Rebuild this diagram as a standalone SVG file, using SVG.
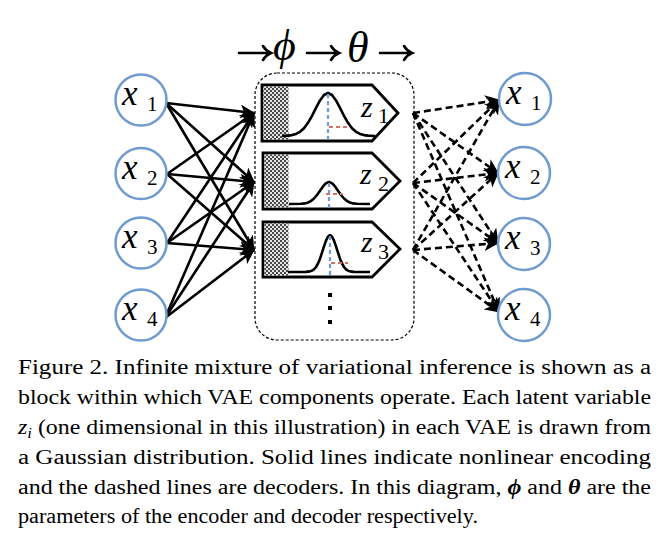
<svg xmlns="http://www.w3.org/2000/svg" width="670" height="552" viewBox="0 0 670 552">
<style>
.circ{fill:#fff;stroke:#6f9bd0;stroke-width:2.5}
.mi{font-family:"Liberation Serif","Tinos","Nimbus Roman","FreeSerif","Noto Serif","DejaVu Serif",serif;font-style:italic;fill:#000}
.sub{font-family:"Liberation Serif","Tinos","Nimbus Roman","FreeSerif","Noto Serif","DejaVu Serif",serif;fill:#000}
.enc{stroke:#000;stroke-width:2.6;fill:none;marker-end:url(#ah)}
.dec{stroke:#000;stroke-width:2.6;fill:none;stroke-dasharray:7,4;marker-end:url(#ah)}
.vae{fill:#fff;stroke:#000;stroke-width:2.8;stroke-linejoin:miter}
.hatch{fill:url(#chk);stroke:none}
.gauss{fill:none;stroke:#000;stroke-width:2.6;stroke-linejoin:round}
.mu{stroke:#6f9bd0;stroke-width:2.2;stroke-dasharray:4,3}
.sd{stroke:#d07565;stroke-width:2.2;stroke-dasharray:4,3}
.cap{font-family:"Liberation Serif","Tinos","Nimbus Roman","FreeSerif","Noto Serif","DejaVu Serif",serif;font-size:20px;fill:#000}
.top{stroke:#000;stroke-width:2.6;fill:none;stroke-linecap:round}
</style>
<defs>
<marker id="ah" markerUnits="userSpaceOnUse" markerWidth="16" markerHeight="14" viewBox="0 0 16 14" refX="14" refY="7" orient="auto">
<path d="M0,0 L15,7 L0,14 L4,7 z" fill="#000"/>
</marker>
<pattern id="chk" patternUnits="userSpaceOnUse" width="4" height="4">
<rect width="4" height="4" fill="#e4e4e4"/>
<rect width="2" height="2" fill="#4a4a4a"/>
<rect x="2" y="2" width="2" height="2" fill="#4a4a4a"/>
</pattern>
</defs>

<g id="params">
<path class="top" d="M239,53 H270 M263,46 Q266,51 271,53 Q266,55 263,60"/>
<text class="mi" x="273" y="60" font-size="44">ϕ</text>
<path class="top" d="M307,53 H338 M331,46 Q334,51 339,53 Q334,55 331,60"/>
<text class="mi" x="347" y="62" font-size="44">θ</text>
<path class="top" d="M380,53 H411 M404,46 Q407,51 412,53 Q407,55 404,60"/>
</g>

<g id="mixture-block">
<rect x="255" y="73" width="159" height="267" rx="22" ry="22" fill="none" stroke="#000" stroke-width="1.2" stroke-dasharray="3,2"/>
</g>

<g id="vae1">
<path class="vae" d="M262,85 H372 L398,113 L372,141 H262 Z"/>
<rect class="hatch" x="263.5" y="86.5" width="25" height="53"/>
<polyline class="gauss" points="282,136 288,135.6 292,135.1 296,133.9 300,131.8 304,128.2 308,122.8 312,115.8 316,107.9 320,100.4 324,95 328,93 332,95 336,100.4 340,107.9 344,115.8 348,122.8 352,128.2 356,131.8 360,133.9 364,135.1 368,135.6 375,136"/>
<line class="mu" x1="328" y1="94" x2="328" y2="141"/>
<line class="sd" x1="329" y1="127" x2="348" y2="127"/>
<text class="mi" x="361" y="117" font-size="30">z</text>
<text class="sub" x="378" y="123" font-size="22">1</text>
</g>

<g id="vae2">
<path class="vae" d="M263,153 H372 L400,181 L372,209 H263 Z"/>
<rect class="hatch" x="264.5" y="154.5" width="24" height="53"/>
<polyline class="gauss" points="289,204 301,203.8 305,203.4 308,202.6 311,201 314,198.5 317,195 320,190.7 323,186.4 326,183.2 329,182 332,183.2 335,186.4 338,190.7 341,195 344,198.5 347,201 350,202.6 353,203.4 357,203.8 370,204"/>
<line class="mu" x1="329" y1="183" x2="329" y2="209"/>
<line class="sd" x1="326" y1="194" x2="343" y2="194"/>
<text class="mi" x="360" y="184" font-size="30">z</text>
<text class="sub" x="378" y="191" font-size="22">2</text>
</g>

<g id="vae3">
<path class="vae" d="M263,222 H372 L400,249 L372,277 H263 Z"/>
<rect class="hatch" x="264.5" y="223.5" width="24" height="52"/>
<polyline class="gauss" points="288,272 306,271.9 310,271.4 312,270.65 314,269.3 316,267 318,263.5 320,258.7 322,252.7 324,246.4 326,240.6 328,236.5 330,235 332,236.5 334,240.6 336,246.4 338,252.7 340,258.7 342,263.5 344,267 346,269.3 348,270.65 350,271.4 354,271.9 370,272"/>
<line class="mu" x1="330" y1="236" x2="330" y2="277"/>
<line class="sd" x1="331" y1="263" x2="348" y2="263"/>
<text class="mi" x="361" y="252" font-size="30">z</text>
<text class="sub" x="378" y="259" font-size="22">3</text>
</g>

<g id="ellipsis">
<rect x="328" y="293" width="4" height="4" fill="#000"/>
<rect x="328" y="306" width="4" height="4" fill="#000"/>
<rect x="328" y="320" width="4" height="4" fill="#000"/>
</g>

<g id="connectors">
<line class="enc" x1="166" y1="103" x2="254" y2="113"/>
<line class="enc" x1="166" y1="103" x2="254" y2="182"/>
<line class="enc" x1="166" y1="103" x2="254" y2="250"/>
<line class="enc" x1="167" y1="174" x2="254" y2="113"/>
<line class="enc" x1="167" y1="174" x2="254" y2="182"/>
<line class="enc" x1="167" y1="174" x2="254" y2="250"/>
<line class="enc" x1="167" y1="243" x2="254" y2="113"/>
<line class="enc" x1="167" y1="243" x2="254" y2="182"/>
<line class="enc" x1="167" y1="243" x2="254" y2="250"/>
<line class="enc" x1="165" y1="318" x2="254" y2="113"/>
<line class="enc" x1="165" y1="318" x2="254" y2="182"/>
<line class="enc" x1="165" y1="318" x2="254" y2="250"/>
<line class="dec" x1="413" y1="113" x2="499" y2="100"/>
<line class="dec" x1="413" y1="113" x2="498" y2="173"/>
<line class="dec" x1="413" y1="113" x2="498" y2="243"/>
<line class="dec" x1="413" y1="113" x2="499" y2="312"/>
<line class="dec" x1="413" y1="183" x2="499" y2="100"/>
<line class="dec" x1="413" y1="183" x2="498" y2="173"/>
<line class="dec" x1="413" y1="183" x2="498" y2="243"/>
<line class="dec" x1="413" y1="183" x2="499" y2="312"/>
<line class="dec" x1="413" y1="250" x2="499" y2="100"/>
<line class="dec" x1="413" y1="250" x2="498" y2="173"/>
<line class="dec" x1="413" y1="250" x2="498" y2="243"/>
<line class="dec" x1="413" y1="250" x2="499" y2="312"/>
</g>

<g id="in-x1"><circle class="circ" cx="141" cy="100" r="25.5"/><text class="mi" x="122" y="105" font-size="35">x</text><text class="sub" x="147" y="111" font-size="21">1</text></g>
<g id="in-x2"><circle class="circ" cx="141" cy="173.5" r="25.5"/><text class="mi" x="122" y="178.5" font-size="35">x</text><text class="sub" x="147" y="184.5" font-size="21">2</text></g>
<g id="in-x3"><circle class="circ" cx="141" cy="243" r="25.5"/><text class="mi" x="122" y="248" font-size="35">x</text><text class="sub" x="147" y="254" font-size="21">3</text></g>
<g id="in-x4"><circle class="circ" cx="141" cy="315" r="25.5"/><text class="mi" x="122" y="320" font-size="35">x</text><text class="sub" x="147" y="326" font-size="21">4</text></g>

<g id="out-x1"><circle class="circ" cx="525" cy="99" r="26"/><text class="mi" x="506" y="104" font-size="35">x</text><text class="sub" x="531" y="110" font-size="21">1</text></g>
<g id="out-x2"><circle class="circ" cx="524" cy="173" r="26"/><text class="mi" x="505" y="178" font-size="35">x</text><text class="sub" x="530" y="184" font-size="21">2</text></g>
<g id="out-x3"><circle class="circ" cx="524" cy="244" r="26"/><text class="mi" x="505" y="249" font-size="35">x</text><text class="sub" x="530" y="255" font-size="21">3</text></g>
<g id="out-x4"><circle class="circ" cx="524" cy="315" r="26"/><text class="mi" x="505" y="320" font-size="35">x</text><text class="sub" x="530" y="326" font-size="21">4</text></g>

<g id="caption">
<text class="cap" x="18" y="374" textLength="633" lengthAdjust="spacingAndGlyphs">Figure 2. Infinite mixture of variational inference is shown as a</text>
<text class="cap" x="18" y="404" textLength="633" lengthAdjust="spacingAndGlyphs">block within which VAE components operate. Each latent variable</text>
<text class="cap" x="18" y="434" textLength="633" lengthAdjust="spacingAndGlyphs"><tspan font-style="italic">z</tspan><tspan font-style="italic" font-size="14" dy="4">i</tspan><tspan dy="-4"> (one dimensional in this illustration) in each VAE is drawn from</tspan></text>
<text class="cap" x="18" y="464" textLength="633" lengthAdjust="spacingAndGlyphs">a Gaussian distribution.  Solid lines indicate nonlinear encoding</text>
<text class="cap" x="18" y="494" textLength="633" lengthAdjust="spacingAndGlyphs">and the dashed lines are decoders. In this diagram, <tspan font-style="italic" font-weight="bold">ϕ</tspan> and <tspan font-style="italic" font-weight="bold">θ</tspan> are the</text>
<text class="cap" x="18" y="523" textLength="460" lengthAdjust="spacingAndGlyphs">parameters of the encoder and decoder respectively.</text>
</g>
</svg>
